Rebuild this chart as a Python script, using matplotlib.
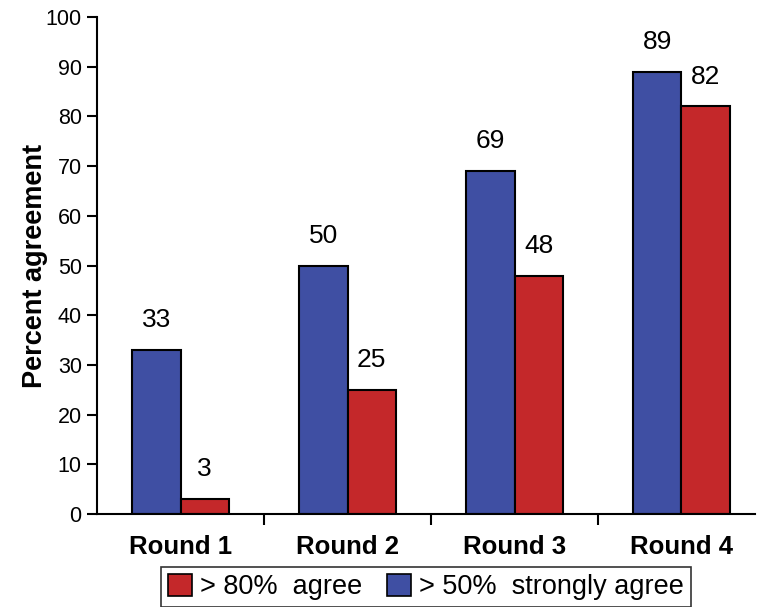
import matplotlib.pyplot as plt
import numpy as np
from matplotlib.patches import Patch

plt.rcParams["font.family"] = ["Liberation Sans", "DejaVu Sans"]

# Dados
rounds = ["Round 1", "Round 2", "Round 3", "Round 4"]
strongly_agree_50 = [33, 50, 69, 89]
agree_80 = [3, 25, 48, 82]

blue = "#3f4fa3"
red = "#c4282a"

fig = plt.figure(figsize=(7.58, 6.07), dpi=100)
ax = fig.add_axes([0.128, 0.153, 0.868, 0.819])

x = np.arange(len(rounds))
w = 0.29

b1 = ax.bar(x - w / 2, strongly_agree_50, w, color=blue, edgecolor="black", linewidth=1.5)
b2 = ax.bar(x + w / 2, agree_80, w, color=red, edgecolor="black", linewidth=1.5)

for bars in (b1, b2):
    for rect in bars:
        h = rect.get_height()
        ax.text(rect.get_x() + rect.get_width() / 2, h + 3.6, f"{h:g}",
                ha="center", va="bottom", fontsize=19)

ax.set_xlim(-0.5, 3.44)
ax.set_ylim(0, 100)
ax.set_yticks(np.arange(0, 101, 10))
ax.tick_params(axis="y", labelsize=15.5, length=7, width=1.5, direction="out", pad=4)

# rótulos das rodadas sem marcas, marcas entre os grupos
ax.set_xticks(x)
ax.set_xticklabels(rounds, fontsize=18.5, fontweight="bold")
ax.tick_params(axis="x", length=0, pad=15)
ax.set_xticks([0.5, 1.5, 2.5], minor=True)
ax.tick_params(axis="x", which="minor", length=8, width=1.5, direction="out")

ax.spines["top"].set_visible(False)
ax.spines["right"].set_visible(False)
ax.spines["left"].set_linewidth(1.5)
ax.spines["bottom"].set_linewidth(1.5)

ax.set_ylabel("Percent agreement", fontsize=19.5, fontweight="bold", labelpad=-2)

handles = [Patch(facecolor=red, edgecolor="black", linewidth=1.2),
           Patch(facecolor=blue, edgecolor="black", linewidth=1.2)]
leg = ax.legend(handles, ["> 80%  agree", "> 50%  strongly agree"],
                loc="upper center", bbox_to_anchor=(0.5, -0.106), ncol=2,
                fontsize=19.5, frameon=True, fancybox=False, edgecolor="black",
                handlelength=0.9, handleheight=0.9, handletextpad=0.3,
                columnspacing=0.9, borderpad=0.25, borderaxespad=0)
leg.get_frame().set_linewidth(1.2)

fig.savefig("out.png", dpi=100)
